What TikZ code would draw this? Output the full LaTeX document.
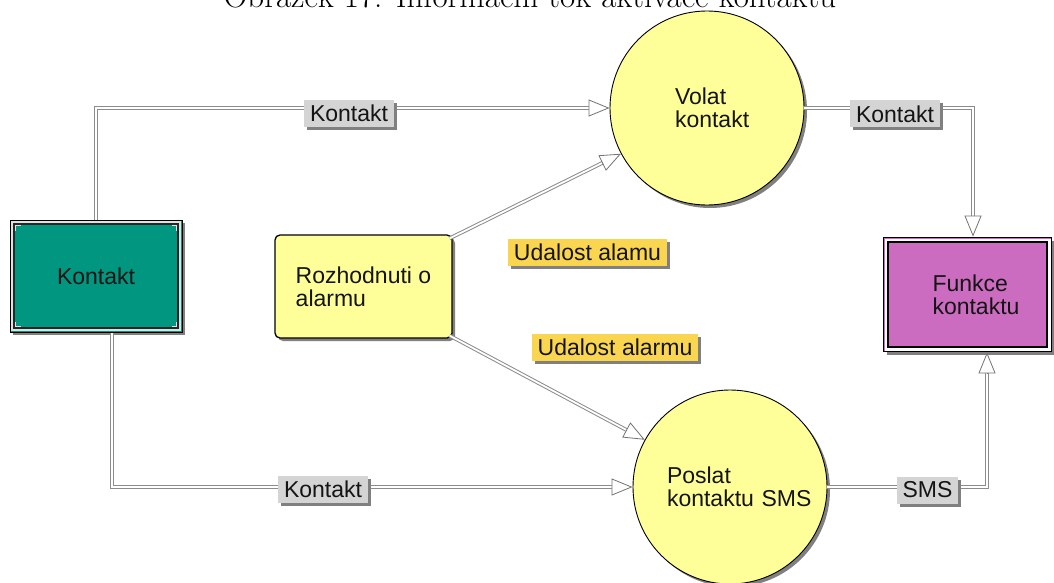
\documentclass[tikz,border=0pt]{standalone}
\usepackage{fontspec}
\newfontfamily\diafont{Liberation Sans}
\usetikzlibrary{arrows.meta,calc,shadows}
\definecolor{kgreen}{RGB}{0,150,128}
\definecolor{procyellow}{RGB}{255,255,153}
\definecolor{fmagenta}{RGB}{204,108,192}
\definecolor{labgray}{RGB}{212,212,212}
\definecolor{evgold}{RGB}{250,214,80}
\begin{document}
\begin{tikzpicture}[x=1pt,y=-1pt,
  txt/.style={font=\diafont\fontsize{23}{23}\selectfont, text=black!92},
  shade3/.style={drop shadow={shadow xshift=3pt, shadow yshift=-3pt, fill=black!50, opacity=1}},
  proc/.style={circle, draw=black, line width=0.9pt, fill=procyellow, minimum size=194pt,
    inner sep=0pt, align=left, txt, shade3},
  flow/.style={draw=black!45, line width=1pt, double=white, double distance=1.8pt, shorten >=19pt},
  tip/.style={draw=black!55, line width=0.8pt, -{Triangle[length=21pt, width=17pt, fill=white]}},
  flab/.style={txt, fill=labgray, inner xsep=6pt, inner ysep=0pt, minimum height=27pt, shade3},
  evlab/.style={flab, fill=evgold}]

\useasboundingbox (0,0) rectangle (1054,583);

% caption above the chart
\node[anchor=base, font=\fontsize{33}{36}\selectfont] (cap) at (530,7.5)
  {Obrázek 17: Informační tok aktivace kontaktu};

% external entity: Kontakt
\node[draw=black, line width=1pt, fill=kgreen, minimum width=172pt, minimum height=112pt,
  txt, shade3] (kon) at (96,276) {Kontakt};
\draw[black!12, line width=2pt] ([xshift=2.5pt,yshift=-2.5pt]kon.north west)
  rectangle ([xshift=-2.5pt,yshift=2.5pt]kon.south east);
\draw[black!85, line width=1.2pt] ([xshift=4.5pt,yshift=-4.5pt]kon.north west)
  rectangle ([xshift=-4.5pt,yshift=4.5pt]kon.south east);
\foreach \c/\sx/\sy in {north west/1/-1, north east/-1/-1, south west/1/1, south east/-1/1}
  \draw[black!12, line width=1.2pt] ([xshift=\sx*6pt, yshift=\sy*11pt]kon.\c)
    -- ([xshift=\sx*6pt, yshift=\sy*6pt]kon.\c) -- ([xshift=\sx*11pt, yshift=\sy*6pt]kon.\c);

% decision process
\node[draw=black, line width=1.3pt, fill=procyellow, rounded corners=5pt, minimum width=177pt,
  minimum height=103pt, txt, align=left, shade3] (roz) at (363.5,286.5) {Rozhodnuti o\\alarmu};

% processes
\node[proc, text width=64pt] (volat) at (707,108) {Volat\\kontakt};
\node[proc, text width=126pt] (poslat) at (730,487) {Poslat\\kontaktu~SMS};

% target entity: Funkce kontaktu
\node[draw=black, line width=1.8pt, fill=fmagenta, minimum width=168pt, minimum height=114pt,
  txt, align=left, shade3, text width=70pt] (funk) at (967.5,294.5) {Funkce\\kontaktu};
\draw[white, line width=2.2pt] ([xshift=3pt,yshift=-3pt]funk.north west)
  rectangle ([xshift=-3pt,yshift=3pt]funk.south east);
\draw[black, line width=1.6pt] ([xshift=5.5pt,yshift=-5.5pt]funk.north west)
  rectangle ([xshift=-5.5pt,yshift=5.5pt]funk.south east);

% data flows
\draw[flow] (kon.north) |- (volat.west);
\draw[tip] ([xshift=-21pt]volat.west) -- (volat.west);

\draw[flow] ([xshift=16pt]kon.south) |- (poslat.west);
\draw[tip] ([xshift=-21pt]poslat.west) -- (poslat.west);

\draw[flow] (volat.east) -| ([xshift=5.5pt]funk.north);
\draw[tip] ([xshift=5.5pt,yshift=21pt]funk.north) -- ([xshift=5.5pt]funk.north);

\draw[flow] (poslat.east) -| ([xshift=19.5pt]funk.south);
\draw[tip] ([xshift=19.5pt,yshift=-21pt]funk.south) -- ([xshift=19.5pt]funk.south);

\coordinate (rozA) at ([xshift=-3pt,yshift=-4pt]roz.north east);
\coordinate (rozB) at ([xshift=-3pt,yshift=3pt]roz.south east);
\draw[flow] (rozA) -- (volat.208);
\draw[tip] ($(volat.208)!21pt!(rozA)$) -- (volat.208);
\draw[flow] (rozB) -- (poslat.151);
\draw[tip] ($(poslat.151)!21pt!(rozB)$) -- (poslat.151);

% flow labels
\node[flab] (l1) at (349,113.5) {Kontakt};
\node[flab] (l2) at (323,489) {Kontakt};
\node[flab] (l3) at (895,114) {Kontakt};
\node[flab] (l4) at (927.5,490) {SMS};
\node[evlab] (l5) at (587.5,252.5) {Udalost alamu};
\node[evlab] (l6) at (615,347.5) {Udalost alarmu};
\end{tikzpicture}
\end{document}
